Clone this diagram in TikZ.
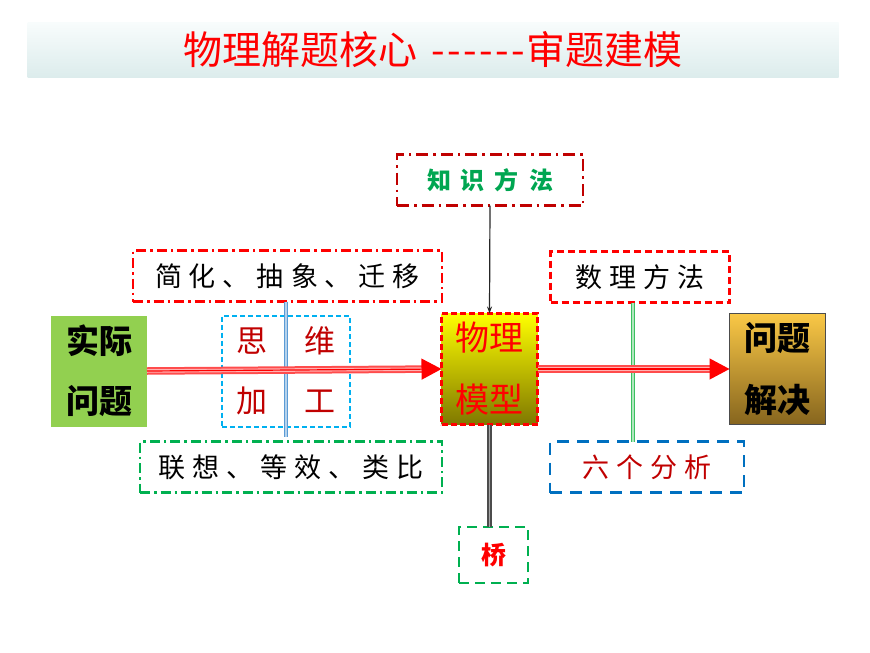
\documentclass[tikz,border=0pt]{standalone}
\usepackage{fontspec}
\setmainfont{Noto Sans CJK SC}
\usetikzlibrary{arrows.meta}
\definecolor{bandtop}{HTML}{F8FCFC}
\definecolor{bandbot}{HTML}{DCECEC}
\definecolor{dred}{HTML}{C00000}
\definecolor{kgreen}{HTML}{00A651}
\definecolor{bgreen}{HTML}{00B050}
\definecolor{cyanb}{HTML}{00B0F0}
\definecolor{blueb}{HTML}{0070C0}
\definecolor{lgreen}{HTML}{92D050}
\definecolor{lineblue}{HTML}{5B9BD5}
\definecolor{linegreen}{HTML}{3CC060}
\definecolor{goldtop}{HTML}{FAC846}
\definecolor{goldbot}{HTML}{86651E}
\definecolor{olivebot}{HTML}{7F7800}
\newcommand\chgap{\hspace{7pt}}
\begin{document}
\begin{tikzpicture}[x=1pt,y=-1pt,
  every node/.style={inner sep=0pt,outer sep=0pt},
  boxline/.style={line width=2.4pt},
  dashdotbox/.style={boxline,dash pattern=on 10pt off 4pt on 2.5pt off 4pt},
  dashbox/.style={boxline,dash pattern=on 7pt off 4pt},
  lbl/.style={font=\fontsize{27}{27}\selectfont,text=black},
  twoline/.style={align=center,minimum width=96,minimum height=111},
  shaft/.style={line width=2pt,draw=red!70,double=red!30,double distance=3.5pt,shorten >=16pt},
  core/.style={red,line width=1.2pt,-{Triangle[length=20pt,width=21pt]}}]
\useasboundingbox (0,0) rectangle (870,653);
% title band
\node[minimum width=811,minimum height=55,top color=bandtop,bottom color=bandbot,
  text=red,font=\fontsize{39}{39}\selectfont] (tb) at (433,50)
  {物理解题核心\hspace{14pt}-\kern2.5pt-\kern2.5pt-\kern2.5pt-\kern2.5pt-\kern2.5pt-\kern1pt审题建模};
% boxes
\node[draw=dred,dashdotbox,dash pattern=on 12pt off 5pt on 2.5pt off 5pt,minimum width=186,minimum height=51,
  text=kgreen,font=\bfseries\fontsize{24}{24}\selectfont] (zs) at (490,180)
  {知\hspace{10pt}识\hspace{10pt}方\hspace{10pt}法};
\node[draw=red,dashdotbox,minimum width=309,minimum height=51,lbl] (jh) at (287.5,276)
  {简\chgap 化\chgap 、\chgap 抽\chgap 象\chgap 、\chgap 迁\chgap 移\hspace{14pt}};
\node[draw=bgreen,dashdotbox,minimum width=302,minimum height=51,lbl] (lx) at (291,467)
  {联\chgap 想\chgap 、\chgap 等\chgap 效\chgap 、\chgap 类\chgap 比\hspace{12pt}};
\node[draw=red,dashbox,minimum width=179,minimum height=51,lbl] (sl) at (640,277)
  {数\chgap 理\chgap 方\chgap 法\hspace{18pt}};
\node[draw=blueb,boxline,dash pattern=on 12pt off 8pt,minimum width=194,minimum height=51,
  lbl,text=dred] (lg) at (647,467)
  {六\chgap 个\chgap 分\chgap 析\hspace{33pt}};
\node[draw=bgreen,boxline,dash pattern=on 10pt off 6pt,minimum width=69,minimum height=56,
  text=red,font=\bfseries\fontsize{25}{25}\selectfont] (q) at (493.5,555) {桥};
\node[fill=lgreen,twoline,font=\bfseries\fontsize{33}{60}\selectfont] (a) at (99,371) {实际\\问题};
\node[draw=cyanb,line width=2pt,dash pattern=on 5pt off 3pt,minimum width=128,minimum height=111,
  align=center,text=dred,font=\fontsize{31}{60}\selectfont] (sw) at (286,371)
  {思\hspace{37pt}维\\加\hspace{37pt}工};
\node[draw=red,boxline,dash pattern=on 6pt off 3pt,top color=yellow,bottom color=olivebot,
  twoline,text=red,font=\fontsize{34}{62}\selectfont] (m) at (489.5,369) {物理\\模型};
\node[draw=black!70,line width=1.2pt,top color=goldtop,bottom color=goldbot,
  twoline,text=black,font=\bfseries\fontsize{33}{62}\selectfont] (s) at (777.5,369) {问题\\解决};
% vertical connectors
\draw[draw=lineblue,line width=1pt,double=lineblue!45,double distance=1.5pt]
  (sw.center |- jh.south) -- ([yshift=5pt]sw.center |- lx.north);
\draw[draw=linegreen,line width=1pt,double=linegreen!40,double distance=1.5pt]
  ([xshift=-7pt]sl.south) -- ([xshift=-7pt]sl.south |- lg.north);
\draw[black!85,line width=1.2pt,-{Stealth[length=7pt,width=5pt]}] (zs.south) -- (m.north);
\draw[draw=black!70,line width=1.3pt,double=black!35,double distance=1.8pt] (m.south) -- (m.south |- q.north);
% main arrows
\draw[shaft] (a.east) -- (m.west);
\draw[core] (a.east) -- (m.west);
\draw[shaft] (m.east) -- (s.west);
\draw[core] (m.east) -- (s.west);
\end{tikzpicture}
\end{document}
